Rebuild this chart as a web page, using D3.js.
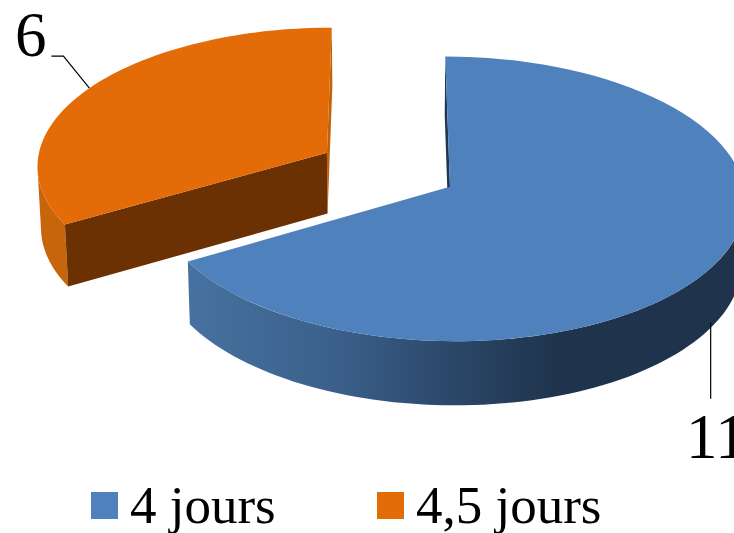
<!DOCTYPE html>
<html>
<head>
<meta charset="utf-8">
<script src="https://cdnjs.cloudflare.com/ajax/libs/d3/7.8.5/d3.min.js"></script>
<style>
    html, body { margin: 0; padding: 0; background: #fff; overflow: hidden; }
    svg { display: block; }
    text { font-family: "Liberation Serif", serif; fill: #000; }
</style>
</head>
<body>
<svg id="chart" width="734" height="533"></svg>
<script>
// Data
const categories = ['4 jours', '4,5 jours'];
const values = [11, 6];

// Colours per slice
const topColors = ['#4f81bd', '#e36c09'];
const cutColors = ['#1f3650', '#6b3103'];
const endColors = ['#1f3650', '#c2620a'];
const rimColors = ['url(#blue-rim)', '#c7650b'];

const width = 734, height = 533;
const svg = d3.select('#chart');

// Perspective set-up: flat disc seen from above, slices pulled apart
const view = { x: 390, y: 170, rx: 291, ry: 138.5, k: 0.084, depth: 61 };
const offsets = [{ u: 0.204, v: 0.12 }, { u: -0.219, v: -0.125 }];

// Tilt makes the slices look wider at the front than their true share
const warp = a => a - 0.145 * Math.sin(a);

function project(slice, angle, down) {
    const u = offsets[slice].u + Math.sin(angle);
    const v = offsets[slice].v - Math.cos(angle);
    return planeProject(u, v, down);
}

function planeProject(u, v, down) {
    const w = 1 / (1 - view.k * v);
    const shrink = down ? 0.99 : 1;
    return [
        view.x + u * view.rx * w * shrink,
        view.y + v * view.ry * w + (down ? view.depth * Math.sqrt(w) : 0)
    ];
}

function apex(slice, down) {
    return planeProject(offsets[slice].u, offsets[slice].v, down);
}

const line = d3.line();

function arcAngles(a0, a1) {
    const n = 80;
    return d3.range(n + 1).map(i => a0 + (a1 - a0) * i / n);
}

function arcPoints(slice, a0, a1, down) {
    return arcAngles(a0, a1).map(a => project(slice, a, down));
}

// Gradient on the blue outer side
const grad = svg.append('defs').append('linearGradient')
    .attr('id', 'blue-rim')
    .attr('gradientUnits', 'userSpaceOnUse')
    .attr('x1', 190).attr('x2', 560).attr('y1', 0).attr('y2', 0);
grad.append('stop').attr('offset', 0).attr('stop-color', '#47729f');
grad.append('stop').attr('offset', 0.4).attr('stop-color', '#3a5f8a');
grad.append('stop').attr('offset', 0.8).attr('stop-color', '#27415f');
grad.append('stop').attr('offset', 1).attr('stop-color', '#1f334c');

// Slices
const pie = d3.pie().sort(null).value(d => d);
const slices = pie(values).map((d, i) => ({
    index: i,
    start: warp(d.startAngle),
    end: warp(d.endAngle)
}));

const pieGroup = svg.append('g').attr('class', 'pie');

slices.forEach(s => {
    const g = pieGroup.append('g');
    const i = s.index;

    // outer side, only up to the silhouette so the path does not fold over itself
    const angles = arcAngles(s.start, s.end);
    const edge = i === 0
        ? d3.greatest(angles, a => project(i, a, false)[0])
        : d3.least(angles, a => project(i, a, false)[0]);
    const rimFrom = i === 0 ? edge : s.start;
    const rimTo = i === 0 ? s.end : edge;
    g.append('path')
        .attr('fill', rimColors[i])
        .attr('d', line(arcPoints(i, rimFrom, rimTo, false)
            .concat(arcPoints(i, rimTo, rimFrom, true))) + 'Z');

    // wall at the slice end angle 0 / 360
    const endAngle = i === 0 ? s.start : s.end;
    g.append('path')
        .attr('fill', endColors[i])
        .attr('d', line([
            project(i, endAngle, false), apex(i, false),
            apex(i, true), project(i, endAngle, true)
        ]) + 'Z');

    // cut face of the orange slice, facing the viewer
    if (i === 1) {
        g.append('path')
            .attr('fill', cutColors[i])
            .attr('d', line([
                project(i, s.start, false), apex(i, false),
                apex(i, true), project(i, s.start, true)
            ]) + 'Z');
    }

    // top surface
    g.append('path')
        .attr('fill', topColors[i])
        .attr('d', line(arcPoints(i, s.start, s.end, false).concat([apex(i, false)])) + 'Z');
});

// Value labels with leader lines
const labelPos = [
    { x: 686, y: 458 },
    { x: 15, y: 56 }
];

slices.forEach(s => {
    const i = s.index;
    const mid = (s.start + s.end) / 2;
    const p = project(i, mid, i === 0);
    const pts = i === 0
        ? [[p[0] - 5, p[1]], [p[0] - 5, p[1] + 76]]
        : [p, [p[0] - 26, p[1] - 32], [p[0] - 38, p[1] - 32]];
    svg.append('path')
        .attr('d', line(pts))
        .attr('fill', 'none')
        .attr('stroke', '#000')
        .attr('stroke-width', 1.2);
    svg.append('text')
        .attr('x', labelPos[i].x)
        .attr('y', labelPos[i].y)
        .attr('font-size', 63)
        .text(values[i]);
});

// Legend
const legendX = [91, 377];
const legend = svg.append('g').attr('class', 'legend');
categories.forEach((c, i) => {
    legend.append('rect')
        .attr('x', legendX[i])
        .attr('y', 492)
        .attr('width', 27)
        .attr('height', 27)
        .attr('fill', topColors[i]);
    legend.append('text')
        .attr('x', legendX[i] + 39)
        .attr('y', 523)
        .attr('font-size', 53)
        .text(c);
});
</script>
</body>
</html>
